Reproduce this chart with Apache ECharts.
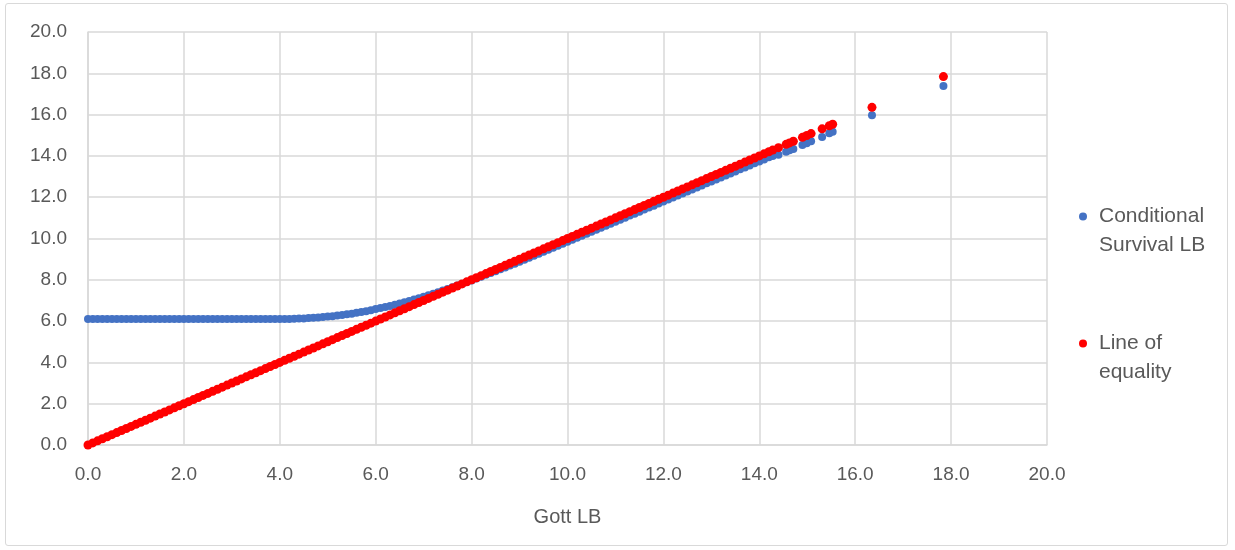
<!DOCTYPE html>
<html>
<head>
<meta charset="utf-8">
<script src="https://cdn.jsdelivr.net/npm/echarts@6/dist/echarts.min.js"></script>
<style>
html,body{margin:0;padding:0;background:#fff;}
#frame{position:absolute;left:5px;top:3px;width:1223px;height:543px;border:1.5px solid #d9d9d9;border-radius:3px;box-sizing:border-box;}
#chart{position:absolute;left:0;top:0;width:1235px;height:550px;}
</style>
</head>
<body>
<div id="frame"></div>
<div id="chart"></div>
<script>
// Gott LB (x) values shared by both series
var gottLB = [
0.0,0.1,0.2,0.3,0.4,0.5,0.6,0.7,0.8,0.9,
1.0,1.1,1.2,1.3,1.4,1.5,1.6,1.7,1.8,1.9,
2.0,2.1,2.2,2.3,2.4,2.5,2.6,2.7,2.8,2.9,
3.0,3.1,3.2,3.3,3.4,3.5,3.6,3.7,3.8,3.9,
4.0,4.1,4.2,4.3,4.4,4.5,4.6,4.7,4.8,4.9,
5.0,5.1,5.2,5.3,5.4,5.5,5.6,5.7,5.8,5.9,
6.0,6.1,6.2,6.3,6.4,6.5,6.6,6.7,6.8,6.9,
7.0,7.1,7.2,7.3,7.4,7.5,7.6,7.7,7.8,7.9,
8.0,8.1,8.2,8.3,8.4,8.5,8.6,8.7,8.8,8.9,
9.0,9.1,9.2,9.3,9.4,9.5,9.6,9.7,9.8,9.9,
10.0,10.1,10.2,10.3,10.4,10.5,10.6,10.7,10.8,10.9,
11.0,11.1,11.2,11.3,11.4,11.5,11.6,11.7,11.8,11.9,
12.0,12.1,12.2,12.3,12.4,12.5,12.6,12.7,12.8,12.9,
13.0,13.1,13.2,13.3,13.4,13.5,13.6,13.7,13.8,13.9,
14.0,14.1,14.2,14.28,
14.4,14.56,14.63,14.71,14.9,14.99,15.08,15.31,15.46,15.53,16.35,17.84
];
// Conditional Survival LB (y of blue series)
var condSurvLB = [
6.1,6.1,6.1,6.1,6.1,6.1,6.1,6.1,6.1,6.1,
6.1,6.1,6.1,6.1,6.1,6.1,6.1,6.1,6.1,6.1,
6.1,6.1,6.1,6.1,6.1,6.1,6.1,6.1,6.1,6.1,
6.1,6.1,6.1,6.1,6.1,6.1,6.1,6.1,6.1,6.1,
6.1,6.1,6.1,6.11,6.12,6.13,6.15,6.16,6.18,6.2,
6.22,6.24,6.27,6.3,6.33,6.36,6.4,6.44,6.48,6.53,
6.58,6.63,6.68,6.73,6.79,6.85,6.91,6.97,7.04,7.11,
7.18,7.25,7.32,7.4,7.48,7.56,7.64,7.72,7.8,7.89,
7.97,8.06,8.15,8.24,8.33,8.42,8.51,8.6,8.69,8.78,
8.88,8.97,9.07,9.16,9.26,9.36,9.45,9.55,9.65,9.74,
9.84,9.94,10.04,10.13,10.23,10.33,10.42,10.52,10.62,10.72,
10.81,10.91,11.01,11.11,11.2,11.3,11.4,11.5,11.59,11.69,
11.79,11.89,11.98,12.08,12.18,12.28,12.37,12.47,12.57,12.67,
12.76,12.86,12.96,13.05,13.15,13.25,13.35,13.44,13.54,13.64,
13.73,13.83,13.93,14.0,
14.05,14.2,14.27,14.34,14.53,14.61,14.71,14.92,15.1,15.17,15.97,17.38
];
// Line of equality (y of red series)
var equalityY = [
0.0,0.1,0.2,0.3,0.4,0.5,0.6,0.7,0.8,0.9,
1.0,1.1,1.2,1.3,1.4,1.5,1.6,1.7,1.8,1.9,
2.0,2.1,2.2,2.3,2.4,2.5,2.6,2.7,2.8,2.9,
3.0,3.1,3.2,3.3,3.4,3.5,3.6,3.7,3.8,3.9,
4.0,4.1,4.2,4.3,4.4,4.5,4.6,4.7,4.8,4.9,
5.0,5.1,5.2,5.3,5.4,5.5,5.6,5.7,5.8,5.9,
6.0,6.1,6.2,6.3,6.4,6.5,6.6,6.7,6.8,6.9,
7.0,7.1,7.2,7.3,7.4,7.5,7.6,7.7,7.8,7.9,
8.0,8.1,8.2,8.3,8.4,8.5,8.6,8.7,8.8,8.9,
9.0,9.1,9.2,9.3,9.4,9.5,9.6,9.7,9.8,9.9,
10.0,10.1,10.2,10.3,10.4,10.5,10.6,10.7,10.8,10.9,
11.0,11.1,11.2,11.3,11.4,11.5,11.6,11.7,11.8,11.9,
12.0,12.1,12.2,12.3,12.4,12.5,12.6,12.7,12.8,12.9,
13.0,13.1,13.2,13.3,13.4,13.5,13.6,13.7,13.8,13.9,
14.0,14.1,14.2,14.28,
14.4,14.56,14.63,14.71,14.9,14.99,15.08,15.31,15.46,15.53,16.35,17.84
];
var seriesNames = ['Conditional Survival LB', 'Line of equality'];
var legendLabels = {'Conditional Survival LB': ' \nConditional\nSurvival LB', 'Line of equality': ' \nLine of\nequality'};
var xAxisTitle = 'Gott LB';

function pairs(xs, ys) {
  var out = [];
  for (var i = 0; i < xs.length; i++) out.push([xs[i], ys[i]]);
  return out;
}

var FONT = 'Liberation Sans';
var TXT = '#595959';
var GRIDC = '#d9d9d9';

var chart = echarts.init(document.getElementById('chart'), null, {renderer: 'canvas'});
chart.setOption({
  animation: false,
  backgroundColor: 'transparent',
  grid: {left: 88, right: 188, top: 32, bottom: 105, containLabel: false},
  legend: {
    orient: 'vertical',
    left: 1074,
    top: 168,
    itemGap: 40,
    itemWidth: 8,
    itemHeight: 8,
    icon: 'circle',
    formatter: function (n) { return legendLabels[n]; },
    textStyle: {fontFamily: FONT, fontSize: 21, color: TXT, lineHeight: 29, padding: [0, 0, 0, 7]},
    data: seriesNames
  },
  xAxis: {
    type: 'value', min: 0, max: 20, interval: 2,
    name: xAxisTitle, nameLocation: 'middle', nameGap: 62,
    nameTextStyle: {fontFamily: FONT, fontSize: 20, color: TXT},
    axisLine: {show: true, lineStyle: {color: GRIDC, width: 1.5}},
    axisTick: {show: false},
    splitLine: {show: true, lineStyle: {color: GRIDC, width: 1.5}},
    axisLabel: {fontFamily: FONT, fontSize: 19, color: TXT, margin: 20,
      formatter: function (v) { return v.toFixed(1); }}
  },
  yAxis: {
    type: 'value', min: 0, max: 20, interval: 2,
    axisLine: {show: true, lineStyle: {color: GRIDC, width: 1.5}},
    axisTick: {show: false},
    splitLine: {show: true, lineStyle: {color: GRIDC, width: 1.5}},
    axisLabel: {fontFamily: FONT, fontSize: 19, color: TXT, margin: 21,
      formatter: function (v) { return v.toFixed(1); }}
  },
  series: [
    {
      name: seriesNames[0], type: 'scatter', symbol: 'circle', symbolSize: 8,
      itemStyle: {color: '#4472C4', opacity: 1},
      data: pairs(gottLB, condSurvLB)
    },
    {
      name: seriesNames[1], type: 'scatter', symbol: 'circle', symbolSize: 9,
      itemStyle: {color: '#FF0000', opacity: 1},
      data: pairs(gottLB, equalityY)
    }
  ]
});
</script>
</body>
</html>
